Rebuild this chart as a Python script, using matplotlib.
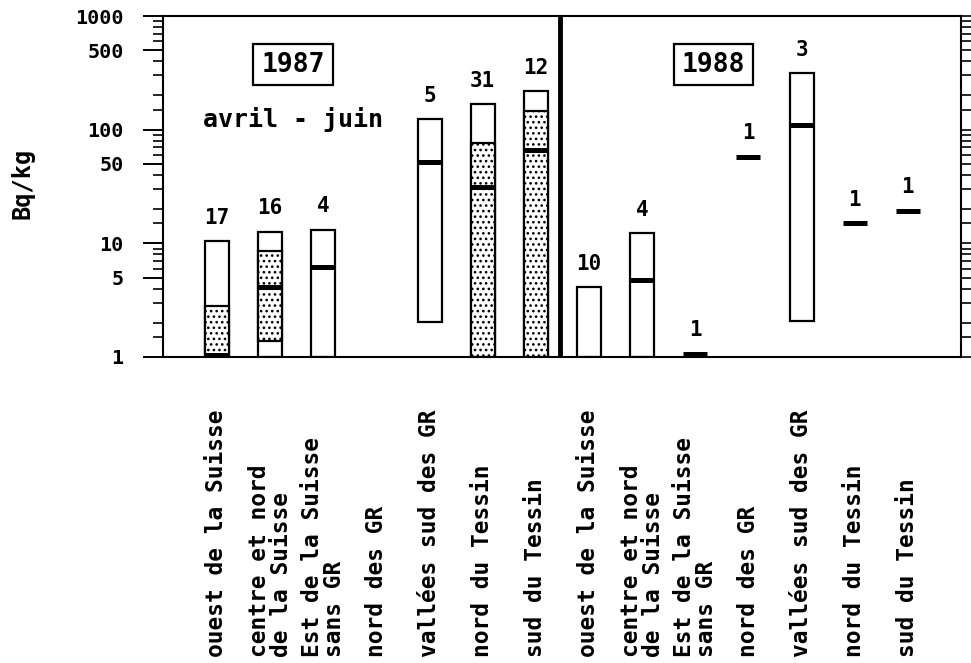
import matplotlib
matplotlib.use("Agg")
import matplotlib.pyplot as plt
import numpy as np

# ---------------- data ----------------
regions = ["ouest de la Suisse", "centre et nord\nde la Suisse", "Est de la Suisse\nsans GR",
           "nord des GR", "vallées sud des GR", "nord du Tessin", "sud du Tessin"]

# 1987 (avril - juin)
n_1987    = [17, 16, 4, None, 5, 31, 12]
min_1987  = [1.0, 1.0, 1.0, None, 2.02, 1.0, 1.0]
qlo_1987  = [1.0, 1.37, None, None, None, 1.0, 1.0]
med_1987  = [1.05, 4.15, 6.15, None, 52, 31, 66.5]
qhi_1987  = [2.8, 8.6, None, None, None, 77, 145]
max_1987  = [10.5, 12.7, 13.2, None, 124, 168, 217]

# 1988
n_1988    = [10, 4, 1, 1, 3, 1, 1]
min_1988  = [1.0, 1.0, None, None, 2.09, None, None]
med_1988  = [None, 4.78, 1.07, 57.8, 110, 15.0, 19.4]
max_1988  = [4.1, 12.3, None, None, 313, None, None]

yticks = [1, 5, 10, 50, 100, 500, 1000]
ytick_labels = ["1", "5", "10", "50", "100", "500", "1000"]

# ---------------- style ----------------
FONT = "DejaVu Sans Mono"
plt.rcParams['font.family'] = [FONT]
plt.rcParams['font.weight'] = 'bold'
plt.rcParams['hatch.linewidth'] = 1.1

W, H = 971, 663
fig = plt.figure(figsize=(W / 100, H / 100), dpi=100)
L, R, T, B = 163, 961, 16, 357
ax = fig.add_axes([L / W, (H - B) / H, (R - L) / W, (B - T) / H])

ax.set_yscale('log')
ax.set_ylim(1, 1000)
ax.set_xlim(-1.016, 14.0)

bw = 0.45
lw_box = 1.6

def draw_group(offset, n, vmin, qlo, med, qhi, vmax):
    for i in range(len(n)):
        if n[i] is None:
            continue
        x = offset + i
        top = None
        if vmin[i] is not None and vmax[i] is not None:
            ax.bar(x, vmax[i] - vmin[i], bottom=vmin[i], width=bw, facecolor='white',
                   edgecolor='black', linewidth=lw_box, zorder=2)
            top = vmax[i]
        if qlo is not None and qlo[i] is not None:
            ax.bar(x, qhi[i] - qlo[i], bottom=qlo[i], width=bw, facecolor='white',
                   edgecolor='black', hatch='...', linewidth=lw_box, zorder=3)
        if med[i] is not None:
            ax.hlines(med[i], x - bw / 2, x + bw / 2, colors='black', linewidth=3.6,
                      zorder=4, capstyle='butt')
            if top is None:
                top = med[i]
        if top is None:
            top = 1.0
        ax.annotate(str(n[i]), xy=(x, top), xytext=(0, 12.5), textcoords='offset points',
                    ha='center', va='baseline', fontsize=15, fontweight='bold',
                    family=FONT)

draw_group(0, n_1987, min_1987, qlo_1987, med_1987, qhi_1987, max_1987)
draw_group(7, n_1988, min_1988, None, med_1988, None, max_1988)

# divider between years
ax.axvline(6.45, color='black', linewidth=3.5, zorder=5)

# axes styling
for s in ax.spines.values():
    s.set_linewidth(1.5)
ax.set_xticks([])
ax.set_yticks(yticks)
ax.set_yticklabels(ytick_labels, fontsize=14.5, fontweight='bold', family=FONT)
minors = []
for dec in [1, 10, 100]:
    for m in [1.5, 2, 3, 4, 6, 7, 8, 9]:
        minors.append(dec * m)
ax.set_yticks(minors, minor=True)
ax.yaxis.set_minor_formatter(matplotlib.ticker.NullFormatter())
ax.tick_params(axis='y', which='major', direction='out', length=14.4, width=1.4,
               pad=14, left=True, right=False)
ax.tick_params(axis='y', which='minor', direction='out', length=7.2, width=1.2,
               left=True, right=False)

# right side ticks (outward, no labels)
axr = ax.twinx()
axr.set_yscale('log')
axr.set_ylim(1, 1000)
axr.set_yticks(yticks)
axr.set_yticks(minors, minor=True)
axr.set_yticklabels([])
axr.yaxis.set_minor_formatter(matplotlib.ticker.NullFormatter())
axr.tick_params(axis='y', which='both', direction='out', length=7.2, width=1.2)
for s in axr.spines.values():
    s.set_visible(False)

# y label
fig.text(23 / W, 1 - 183 / H, "Bq/kg", rotation=90, ha='center', va='center',
         fontsize=17, fontweight='bold', family=FONT)

# year boxes and period
for xc, yr in [(293, "1987"), (713.5, "1988")]:
    ax.text((xc - L) / (R - L), (B - 64.5) / (B - T), yr, transform=ax.transAxes,
            ha='center', va='center', fontsize=19, fontweight='bold', family=FONT,
            bbox=dict(boxstyle='square,pad=0.3', facecolor='white', edgecolor='black',
                      linewidth=1.6))
ax.text((293 - L) / (R - L), (B - 120) / (B - T), "avril - juin", transform=ax.transAxes,
        ha='center', va='center', fontsize=18, fontweight='bold', family=FONT)

# category labels (vertical, starting at the bottom)
for k in range(14):
    lab = regions[k % 7]
    xpix = L + (k + 1.016) / (14.0 + 1.016) * (R - L)
    fig.text(xpix / W, 6 / H, lab, rotation=90, rotation_mode='anchor',
             ha='left', va='center', fontsize=16.5, fontweight='bold', family=FONT,
             linespacing=0.95)

fig.savefig("out.png", dpi=100)
